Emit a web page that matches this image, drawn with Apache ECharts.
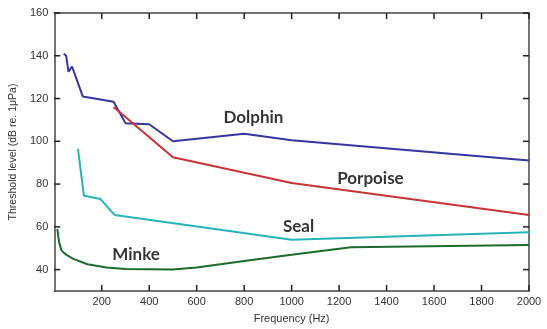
<!DOCTYPE html>
<html>
<head>
<meta charset="utf-8">
<script src="https://cdn.jsdelivr.net/npm/echarts@6/dist/echarts.min.js"></script>
<style>
  html, body { margin: 0; padding: 0; background: #fff; }
  #chart { width: 547px; height: 329px; }
</style>
</head>
<body>
<div id="chart"></div>
<script>
// frequency (Hz), threshold (dB)
const dolphin = [[40, 141], [50, 140], [60, 132.5], [75, 135], [120, 121], [250, 118.5], [300, 108.5], [400, 108], [500, 100], [800, 103.5], [1000, 100.5], [2000, 91]]
const porpoise = [[250, 116], [500, 92.5], [1000, 80.5], [2000, 65.5]]
const seal = [[100, 96.5], [125, 74.5], [195, 73], [255, 65.5], [1000, 54], [2000, 57.5]]
const minke = [[13, 59], [20, 53], [30, 49], [50, 47], [80, 45], [140, 42.5], [220, 41], [300, 40.3], [500, 40], [600, 41], [800, 44], [1000, 47], [1250, 50.5], [2000, 51.5]]

const xTicks = [200, 400, 600, 800, 1000, 1200, 1400, 1600, 1800, 2000]
const yTicks = [40, 60, 80, 100, 120, 140, 160]

// where the species names sit (data coords)
const labelNames = ['Dolphin', 'Porpoise', 'Seal', 'Minke']
const labelPos = [[839, 111.2], [1332, 82.6], [1029, 60.3], [345, 47.1]]

const X_MIN = 0, X_MAX = 2000, Y_MIN = 30, Y_MAX = 160
const axisColor = '#444'
const labelColor = '#333'
const TICK = 6

const chart = echarts.init(document.getElementById('chart'))

function lineSerie(name, data, color) {
  return {
    name: name,
    type: 'line',
    data: data,
    symbol: 'none',
    lineStyle: { color: color, width: 2 },
    z: 3
  }
}

// inside ticks on all four sides of the box
function tickSerie(values, isX) {
  return {
    type: 'custom',
    coordinateSystem: 'cartesian2d',
    silent: true,
    clip: false,
    encode: { x: 0, y: 1 },
    data: values.map(v => isX ? [v, Y_MIN] : [X_MIN, v]),
    renderItem: function (params, api) {
      const v = api.value(isX ? 0 : 1)
      const a = isX ? api.coord([v, Y_MIN]) : api.coord([X_MIN, v])
      const b = isX ? api.coord([v, Y_MAX]) : api.coord([X_MAX, v])
      const style = { stroke: '#222', lineWidth: 1.5, fill: null }
      const d1 = isX ? [0, -TICK] : [TICK, 0]
      const d2 = isX ? [0, TICK] : [-TICK, 0]
      return {
        type: 'group',
        children: [
          { type: 'line', shape: { x1: a[0], y1: a[1], x2: a[0] + d1[0], y2: a[1] + d1[1] }, style: style },
          { type: 'line', shape: { x1: b[0], y1: b[1], x2: b[0] + d2[0], y2: b[1] + d2[1] }, style: style }
        ]
      }
    },
    z: 10
  }
}

function xAxisOf(pos, extra) {
  return Object.assign({
    type: 'value',
    position: pos,
    min: X_MIN,
    max: X_MAX,
    interval: 200,
    axisLine: { show: true, onZero: false, lineStyle: { color: axisColor, width: 1.5 } },
    axisTick: { show: false },
    splitLine: { show: false }
  }, extra)
}
function yAxisOf(pos, extra) {
  return Object.assign({
    type: 'value',
    position: pos,
    min: Y_MIN,
    max: Y_MAX,
    axisLine: { show: true, onZero: false, lineStyle: { color: axisColor, width: 1.5 } },
    axisTick: { show: false },
    splitLine: { show: false }
  }, extra)
}

const option = {
  animation: false,
  backgroundColor: '#fff',
  grid: { left: 47, right: 18, top: 13, bottom: 30 },
  xAxis: [
    xAxisOf('bottom', {
      name: 'Frequency (Hz)',
      nameLocation: 'middle',
      nameGap: 22,
      nameTextStyle: { color: labelColor, fontSize: 11, fontFamily: 'Liberation Sans' },
      axisLabel: { showMinLabel: false, formatter: (v) => String(v), color: labelColor, fontSize: 11, fontFamily: 'Liberation Sans', margin: 5 }
    }),
    xAxisOf('top', { axisLabel: { show: false } })
  ],
  yAxis: [
    yAxisOf('left', {
      name: 'Threshold level (dB re. 1μPa)',
      nameLocation: 'middle',
      nameGap: 27,
      nameTextStyle: { color: labelColor, fontSize: 10.5, fontFamily: 'Liberation Sans' },
      axisLabel: { customValues: yTicks, color: labelColor, fontSize: 11, fontFamily: 'Liberation Sans', margin: 6 }
    }),
    yAxisOf('right', { axisLabel: { show: false } })
  ],
  series: [
    lineSerie('Dolphin', dolphin, '#3535a0'),
    lineSerie('Porpoise', porpoise, '#c83434'),
    lineSerie('Seal', seal, '#26b4b8'),
    lineSerie('Minke', minke, '#1b6b2c'),
    tickSerie(xTicks, true),
    tickSerie(yTicks, false),
    {
      type: 'scatter',
      symbolSize: 0,
      data: labelPos.map((p, i) => ({ value: p, name: labelNames[i] })),
      label: {
        show: true,
        position: 'inside',
        formatter: (p) => p.name,
        color: '#000',
        fontSize: 17,
        fontWeight: 'bold',
        fontFamily: 'Lato'
      },
      z: 5
    }
  ]
}

chart.setOption(option)
</script>
</body>
</html>
